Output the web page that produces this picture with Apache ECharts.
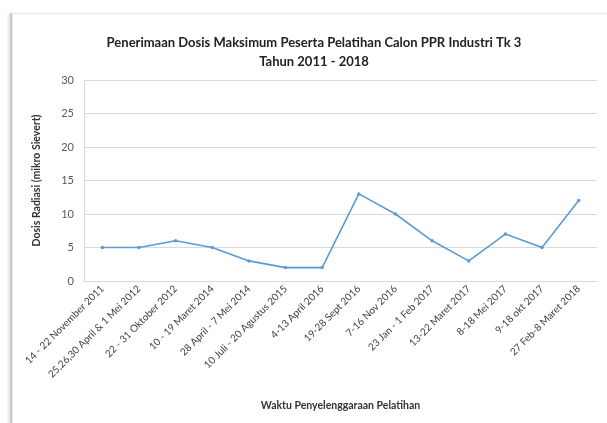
<!DOCTYPE html>
<html>
<head>
<meta charset="utf-8">
<script src="https://cdn.jsdelivr.net/npm/echarts@6/dist/echarts.min.js"></script>
<style>
html,body{margin:0;padding:0;background:#fff;}
#chart{width:607px;height:423px;}
</style>
</head>
<body>
<div id="chart"></div>
<script>
// Training sessions (categories) and maximum dose received (µSv)
var sessions = [
  '14 - 22 November 2011',
  '25,26,30 April & 1 Mei 2012',
  '22 - 31 Oktober 2012',
  '10 - 19 Maret 2014',
  '28 April - 7 Mei 2014',
  '10 Juli - 20 Agustus 2015',
  '4-13 April 2016',
  '19-28 Sept 2016',
  '7-16 Nov 2016',
  '23 Jan - 1 Feb 2017',
  '13-22 Maret 2017',
  '8-18 Mei 2017',
  '9-18 okt 2017',
  '27 Feb-8 Maret 2018'
];
var maxDose = [5, 5, 6, 5, 3, 2, 2, 13, 10, 6, 3, 7, 5, 12];
var yTicks = [0, 5, 10, 15, 20, 25, 30];

var font = 'Lato, "Open Sans", sans-serif';
var chart = echarts.init(document.getElementById('chart'), null, {renderer: 'canvas'});
chart.setOption({
  backgroundColor: '#ffffff',
  animation: false,
  title: {
    text: 'Penerimaan Dosis Maksimum Peserta Pelatihan Calon PPR Industri Tk 3\nTahun 2011 - 2018',
    left: 309,
    textAlign: 'center',
    top: 28,
    textStyle: {fontFamily: font, fontSize: 13, fontWeight: 'bold', color: '#222', lineHeight: 19}
  },
  grid: {left: 84, right: 10, top: 80, bottom: 142},
  xAxis: {
    type: 'category',
    data: sessions,
    boundaryGap: true,
    name: 'Waktu Penyelenggaraan Pelatihan',
    nameLocation: 'middle',
    nameGap: 119,
    nameTextStyle: {fontFamily: font, fontSize: 10.5, fontWeight: 'bold', color: '#333'},
    axisLine: {show: true, lineStyle: {color: '#d9d9d9'}},
    axisTick: {show: false},
    axisLabel: {rotate: 45, interval: 0, margin: 6, fontFamily: font, fontSize: 10, color: '#404040'}
  },
  yAxis: {
    type: 'value',
    min: yTicks[0],
    max: yTicks[yTicks.length - 1],
    interval: 5,
    name: 'Dosis Radiasi (mikro Sievert)',
    nameLocation: 'middle',
    nameGap: 42,
    nameTextStyle: {fontFamily: font, fontSize: 10.5, fontWeight: 'bold', color: '#333'},
    axisLine: {show: true, lineStyle: {color: '#d9d9d9'}},
    axisTick: {show: false},
    axisLabel: {margin: 10, fontFamily: font, fontSize: 11, color: '#595959'},
    splitLine: {show: true, lineStyle: {color: '#d9d9d9', width: 1}}
  },
  series: [{
    type: 'line',
    data: maxDose,
    symbol: 'circle',
    symbolSize: 3.5,
    lineStyle: {color: '#5B9BD5', width: 1.6},
    itemStyle: {color: '#5B9BD5'}
  }],
  graphic: [
    // page frame: left shadowed edge and faint top edge
    {type: 'rect', z: 100, shape: {x: 0, y: 0, width: 11, height: 423}, style: {fill: '#ffffff'}},
    {type: 'rect', z: 100, shape: {x: 0, y: 0, width: 607, height: 13}, style: {fill: '#ffffff'}},
    {type: 'line', z: 101, shape: {x1: 11, y1: 13.5, x2: 607, y2: 13.5}, style: {stroke: '#ececec', lineWidth: 1.5}},
    {type: 'line', z: 101, shape: {x1: 11, y1: 13, x2: 11, y2: 423}, style: {stroke: '#c8c8c8', lineWidth: 2.5}},
    {type: 'line', z: 101, shape: {x1: 8.5, y1: 14, x2: 8.5, y2: 423}, style: {stroke: '#ececec', lineWidth: 2}}
  ]
});
</script>
</body>
</html>
